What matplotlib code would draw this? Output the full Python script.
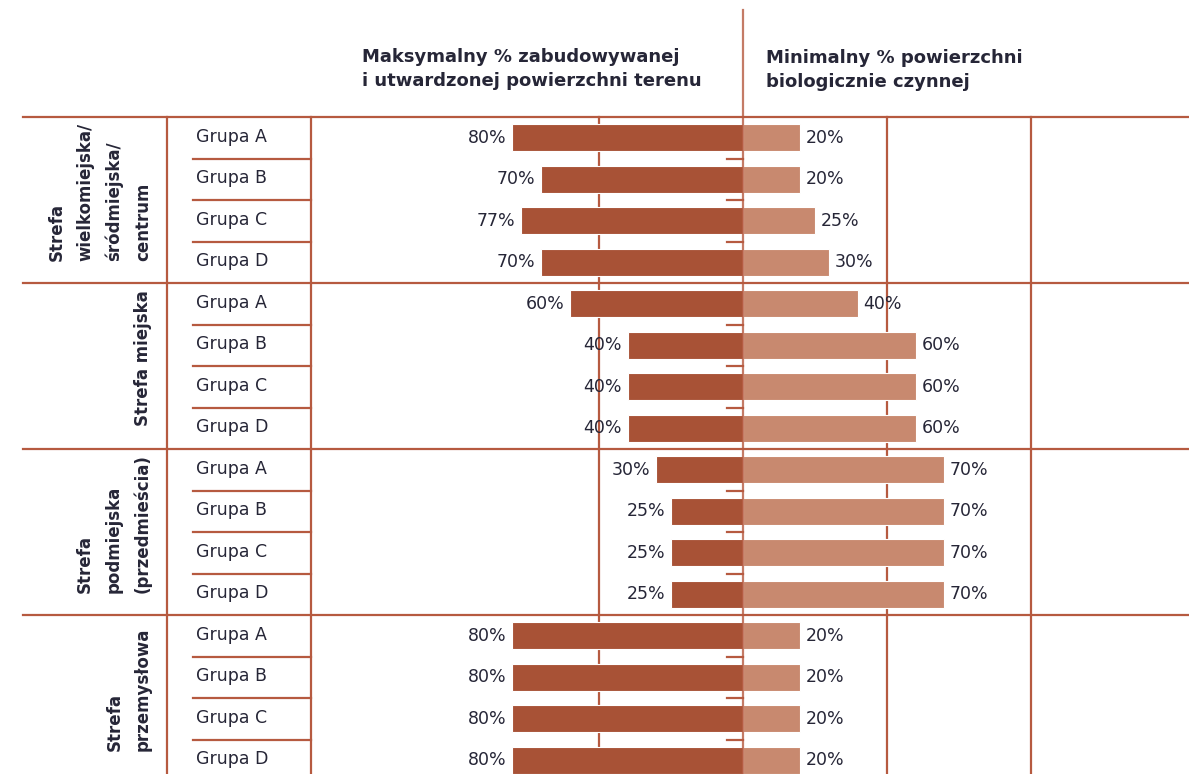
import matplotlib.pyplot as plt

zones = [
    "Strefa\nwielkomiejska/\nśródmiejska/\ncentrum",
    "Strefa miejska",
    "Strefa\npodmiejska\n(przedmieścia)",
    "Strefa\nprzemysłowa",
]
groups = ["Grupa A", "Grupa B", "Grupa C", "Grupa D"]
max_built = [80, 70, 77, 70, 60, 40, 40, 40, 30, 25, 25, 25, 80, 80, 80, 80]
min_bio = [20, 20, 25, 30, 40, 60, 60, 60, 70, 70, 70, 70, 20, 20, 20, 20]
header_left = "Maksymalny % zabudowywanej\ni utwardzonej powierzchni terenu"
header_right = "Minimalny % powierzchni\nbiologicznie czynnej"

DARK = "#a85236"
LIGHT = "#c8896f"
LINE = "#b65a40"
TEXT = "#262637"

plt.rcParams["font.family"] = ["DejaVu Sans"]

fig = plt.figure(figsize=(11.89, 7.74), dpi=100)
ax = fig.add_axes([0, 0, 1, 1])
ax.set_xlim(-258, 155)
ax.set_ylim(15.33, -3.32)
ax.axis("off")

rows = list(range(len(max_built)))

# vertical grid lines
for xv in [-200, -150, -50, 50, 100]:
    ax.plot([xv, xv], [-0.5, 16], color=LINE, lw=1.6, zorder=1)
# zone separators, row separators and centre ticks
for z in range(len(zones)):
    y = z * 4 - 0.5
    ax.plot([-250, 155], [y, y], color=LINE, lw=1.6, zorder=1)
    for k in range(1, 4):
        ax.plot([-191, -150], [y + k, y + k], color=LINE, lw=1.6, zorder=1)
        ax.plot([-5.5, 0], [y + k, y + k], color=LINE, lw=1.6, zorder=1)

# bars
ax.barh(rows, [-v for v in max_built], height=0.65, color=DARK,
        edgecolor="white", linewidth=0.8, zorder=2)
ax.barh(rows, min_bio, height=0.65, color=LIGHT,
        edgecolor="white", linewidth=0.8, zorder=2)
ax.plot([0, 0], [-3.08, 16], color=LINE, lw=1.6, zorder=3, alpha=0.8)

for i in rows:
    ax.text(-max_built[i] - 2, i, f"{max_built[i]}%", ha="right", va="center",
            fontsize=12.5, color=TEXT, zorder=4)
    ax.text(min_bio[i] + 2, i, f"{min_bio[i]}%", ha="left", va="center",
            fontsize=12.5, color=TEXT, zorder=4)
    ax.text(-190, i - 0.02, groups[i % 4], ha="left", va="center",
            fontsize=12.5, color=TEXT)

for z, label in enumerate(zones):
    ax.text(-205.2, z * 4 + 1.3, label, rotation=90, ha="right", va="center",
            multialignment="left", fontsize=12, fontweight="bold", color=TEXT,
            linespacing=1.75)

ax.text(-132.3, -1.66, header_left, ha="left", va="center", fontsize=13,
        fontweight="bold", color=TEXT, linespacing=1.4)
ax.text(8, -1.64, header_right, ha="left", va="center", fontsize=13,
        fontweight="bold", color=TEXT, linespacing=1.4)

fig.savefig("out.png", dpi=100, facecolor="white")
